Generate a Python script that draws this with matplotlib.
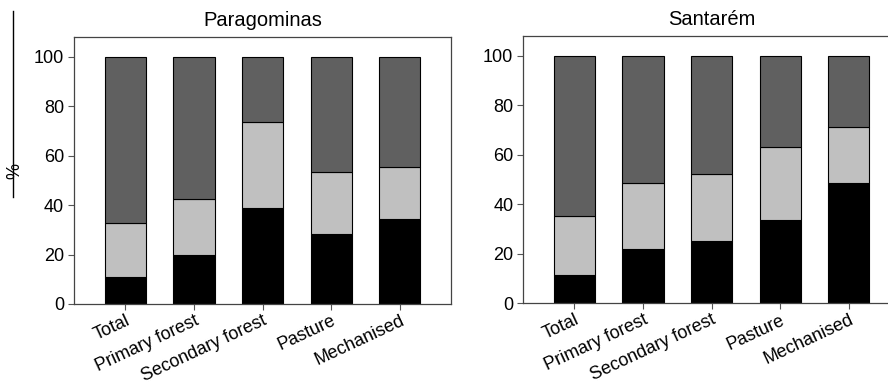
import matplotlib
matplotlib.use("Agg")
from matplotlib import pyplot as plt
from matplotlib.lines import Line2D
import numpy as np

plt.rcParams["font.family"] = ["Liberation Sans", "DejaVu Sans"]

categories = ["Total", "Primary forest", "Secondary forest", "Pasture", "Mechanised"]

# Paragominas: cumulative boundaries
para_black = [10.9, 20.0, 38.8, 28.3, 34.5]
para_light_top = [32.8, 42.4, 73.6, 53.3, 55.5]
# Santarem
sant_black = [11.6, 22.1, 25.3, 33.7, 48.7]
sant_light_top = [35.4, 48.4, 52.2, 63.3, 71.2]
total = [100, 100, 100, 100, 100]

fig = plt.figure(figsize=(8.88, 3.86), dpi=100)

def panel(rect, title, black, light_top):
    ax = fig.add_axes(rect)
    x = np.arange(len(categories))
    black = np.array(black)
    light_top = np.array(light_top)
    dark = np.array(total) - light_top
    light = light_top - black
    kw = dict(width=0.6, edgecolor="black", linewidth=0.8)
    ax.bar(x, black, color="black", **kw)
    ax.bar(x, light, bottom=black, color="#c0c0c0", **kw)
    ax.bar(x, dark, bottom=light_top, color="#606060", **kw)
    ax.set_xlim(-0.75, 4.75)
    ax.set_ylim(0, 108)
    ax.set_yticks([0, 20, 40, 60, 80, 100])
    ax.set_xticks(x)
    ax.set_xticklabels(categories, rotation=25, ha="right", rotation_mode="anchor")
    ax.tick_params(labelsize=13, length=4, width=0.8, color="#555555", pad=3)
    ax.tick_params(axis="x", pad=2)
    for s in ax.spines.values():
        s.set_linewidth(0.9)
        s.set_color("#444444")
    ax.set_title(title, fontsize=14.5, pad=8)
    return ax

ax1 = panel([0.0833, 0.2125, 0.4248, 0.6915], "Paragominas", para_black, para_light_top)
ax1.set_ylabel("%", fontsize=13)
ax1.yaxis.set_label_coords(-0.135, 0.5)
ax2 = panel([0.589, 0.2145, 0.4248, 0.6922], "Santarém", sant_black, sant_light_top)

fig.add_artist(Line2D([0.015, 0.015], [0.972, 0.49], color="black", linewidth=1))

fig.savefig("out.png", dpi=100)
